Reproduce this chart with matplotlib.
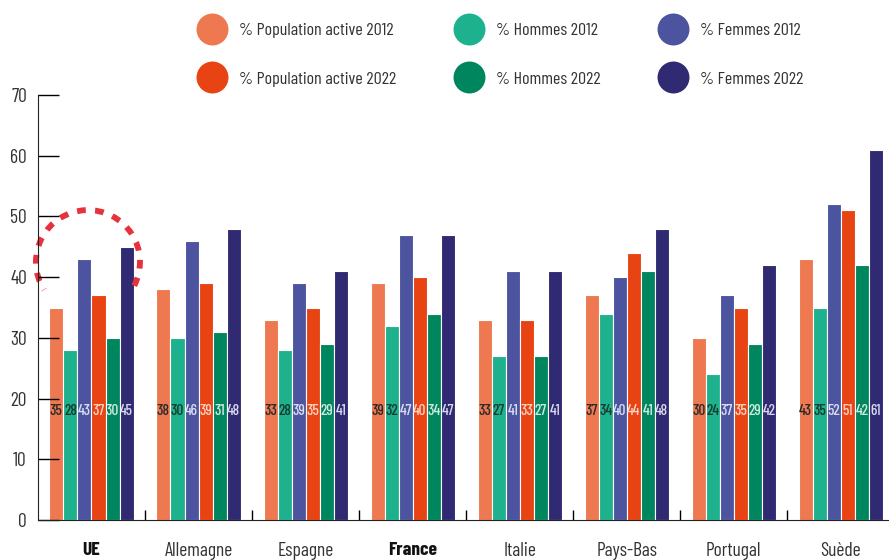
import matplotlib
matplotlib.use("Agg")
import matplotlib.pyplot as plt
from matplotlib.lines import Line2D
from matplotlib.patches import Arc
import matplotlib.font_manager as fm

countries = ["UE", "Allemagne", "Espagne", "France", "Italie", "Pays-Bas", "Portugal", "Suède"]
series_names = ["% Population active 2012", "% Hommes 2012", "% Femmes 2012",
                "% Population active 2022", "% Hommes 2022", "% Femmes 2022"]
pop_2012 = [35, 38, 33, 39, 33, 37, 30, 43]
hommes_2012 = [28, 30, 28, 32, 27, 34, 24, 35]
femmes_2012 = [43, 46, 39, 47, 41, 40, 37, 52]
pop_2022 = [37, 39, 35, 40, 33, 44, 35, 51]
hommes_2022 = [30, 31, 29, 34, 27, 41, 29, 42]
femmes_2022 = [45, 48, 41, 47, 41, 48, 42, 61]
yticks = [0, 10, 20, 30, 40, 50, 60, 70]

series = [pop_2012, hommes_2012, femmes_2012, pop_2022, hommes_2022, femmes_2022]
colors = ["#ee7850", "#1db18e", "#4c549f", "#e84312", "#00865f", "#2f2a72"]
label_colors = ["#2a2a2a", "#163a2e", "#d9ddf2", "#fbd3c3", "#cdeadf", "#d8d8ee"]

names = {f.name for f in fm.fontManager.ttflist}
wanted = ["Barlow Condensed", "Roboto Condensed", "Archivo Narrow",
          "Liberation Sans Narrow", "DejaVu Sans"]
fam = [f for f in wanted if f in names] or ["DejaVu Sans"]
plt.rcParams["font.family"] = fam

fig = plt.figure(figsize=(8.89, 5.6), dpi=100)
ax = fig.add_axes([0.0427, 0.0714, 0.9573, 0.7589])

w = 0.131
x = list(range(len(countries)))
for k, vals in enumerate(series):
    off = (k - 2.5) * w
    pos = [i + off for i in x]
    ax.bar(pos, vals, width=w, color=colors[k], edgecolor="white", linewidth=0.8)
    for p, v in zip(pos, vals):
        ax.text(p, 18, str(v), ha="center", va="center", fontsize=11,
                fontweight="medium", color=label_colors[k])

# dashed highlight around the UE group (angles given in data space)
ax.add_patch(Arc((-0.033, 42.5), 0.972, 17.1, theta1=-83.7, theta2=264.9,
                 color="#e5323d", lw=4.2, linestyle=(0, (1.5, 1.6)),
                 capstyle="butt", clip_on=False))

ax.set_xlim(-0.5, 7.45)
ax.set_ylim(0, 70)
ax.set_yticks(yticks)
ax.tick_params(axis="y", direction="in", length=15, width=1, pad=8,
               labelsize=14, labelcolor="#333333")
ax.set_xticks(x)
ax.set_xticklabels(countries)
ax.tick_params(axis="x", length=0, pad=16, labelsize=14, labelcolor="#333333")
for lbl in ax.get_xticklabels():
    if lbl.get_text() in ("UE", "France"):
        lbl.set_fontweight("bold")
        lbl.set_color("#111111")
ax.set_xticks([i + 0.5 for i in x[:-1]], minor=True)
ax.tick_params(axis="x", which="minor", direction="in", length=7, width=1)
ax.spines["top"].set_visible(False)
ax.spines["right"].set_visible(False)
ax.spines["left"].set_color("#222222")
ax.spines["bottom"].set_color("#222222")

order = [0, 3, 1, 4, 2, 5]
handles = [Line2D([], [], marker="o", linestyle="none", markersize=23,
                  markerfacecolor=colors[k], markeredgecolor="none") for k in order]
fig.legend(handles, [series_names[k] for k in order], ncol=3,
           loc="upper left", bbox_to_anchor=(0.198, 0.992), frameon=False,
           fontsize=13, labelcolor="#333333", columnspacing=3.0,
           handletextpad=0.5, labelspacing=1.82, borderpad=0.5)

fig.savefig("out.png", dpi=100)
